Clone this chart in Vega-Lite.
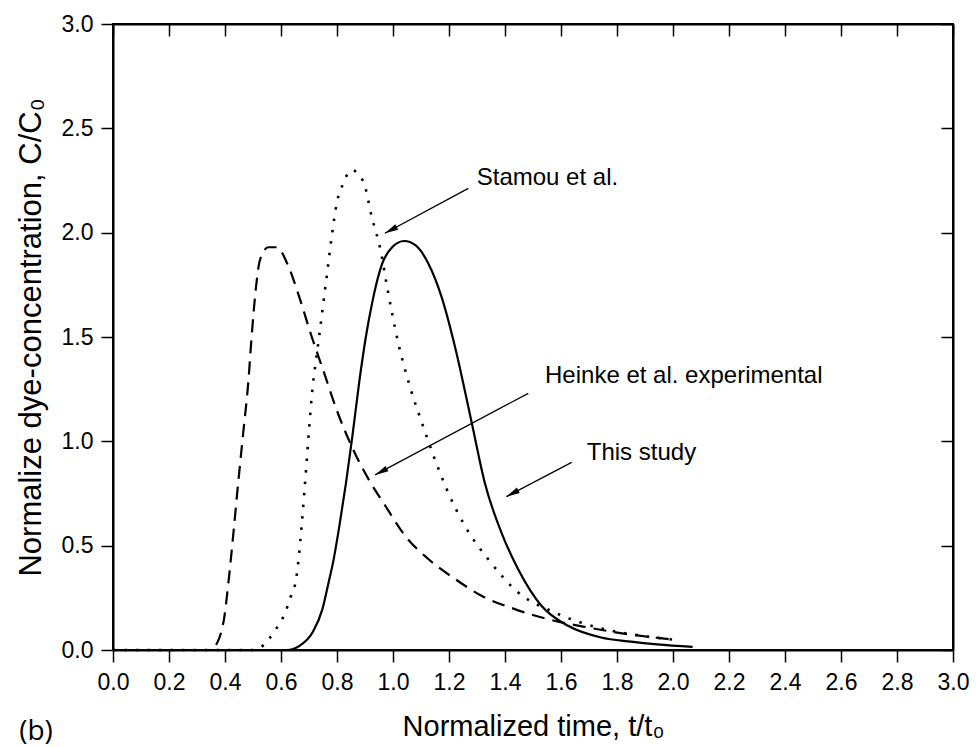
{
  "$schema": "https://vega.github.io/schema/vega-lite/v6.json",
  "width": 840,
  "height": 626,
  "autosize": {"type": "none"},
  "padding": {"left": 113, "top": 24, "right": 23, "bottom": 97},
  "background": "white",
  "config": {
    "view": {"stroke": "black", "strokeWidth": 2},
    "axis": {
      "grid": false,
      "labelFont": "Liberation Sans",
      "labelFontSize": 23,
      "labelColor": "black",
      "titleFont": "Liberation Sans",
      "titleFontSize": 29,
      "titleFontWeight": "normal",
      "titleColor": "black",
      "domainColor": "black",
      "domainWidth": 2,
      "tickColor": "black",
      "tickWidth": 1.5,
      "tickSize": 12
    },
    "text": {"font": "Liberation Sans", "color": "black"}
  },
  "datasets": {
    "curves": [
      {"series": "Heinke et al. experimental", "t": 0, "c": 0},
      {"series": "Heinke et al. experimental", "t": 0.34, "c": 0},
      {"series": "Heinke et al. experimental", "t": 0.358, "c": 0.01},
      {"series": "Heinke et al. experimental", "t": 0.394, "c": 0.13},
      {"series": "Heinke et al. experimental", "t": 0.412, "c": 0.32},
      {"series": "Heinke et al. experimental", "t": 0.43, "c": 0.56},
      {"series": "Heinke et al. experimental", "t": 0.447, "c": 0.8},
      {"series": "Heinke et al. experimental", "t": 0.465, "c": 1.04},
      {"series": "Heinke et al. experimental", "t": 0.483, "c": 1.28},
      {"series": "Heinke et al. experimental", "t": 0.495, "c": 1.5},
      {"series": "Heinke et al. experimental", "t": 0.51, "c": 1.73},
      {"series": "Heinke et al. experimental", "t": 0.525, "c": 1.87},
      {"series": "Heinke et al. experimental", "t": 0.555, "c": 1.93},
      {"series": "Heinke et al. experimental", "t": 0.585, "c": 1.93},
      {"series": "Heinke et al. experimental", "t": 0.626, "c": 1.84},
      {"series": "Heinke et al. experimental", "t": 0.668, "c": 1.68},
      {"series": "Heinke et al. experimental", "t": 0.71, "c": 1.5},
      {"series": "Heinke et al. experimental", "t": 0.751, "c": 1.34},
      {"series": "Heinke et al. experimental", "t": 0.799, "c": 1.15},
      {"series": "Heinke et al. experimental", "t": 0.858, "c": 0.96},
      {"series": "Heinke et al. experimental", "t": 0.912, "c": 0.82},
      {"series": "Heinke et al. experimental", "t": 0.973, "c": 0.69},
      {"series": "Heinke et al. experimental", "t": 1.044, "c": 0.546},
      {"series": "Heinke et al. experimental", "t": 1.127, "c": 0.435},
      {"series": "Heinke et al. experimental", "t": 1.222, "c": 0.34},
      {"series": "Heinke et al. experimental", "t": 1.316, "c": 0.26},
      {"series": "Heinke et al. experimental", "t": 1.435, "c": 0.196},
      {"series": "Heinke et al. experimental", "t": 1.553, "c": 0.148},
      {"series": "Heinke et al. experimental", "t": 1.696, "c": 0.108},
      {"series": "Heinke et al. experimental", "t": 1.838, "c": 0.076},
      {"series": "Heinke et al. experimental", "t": 2.0, "c": 0.05},

      {"series": "Stamou et al.", "t": 0, "c": 0},
      {"series": "Stamou et al.", "t": 0.5, "c": 0},
      {"series": "Stamou et al.", "t": 0.524, "c": 0.01},
      {"series": "Stamou et al.", "t": 0.577, "c": 0.09},
      {"series": "Stamou et al.", "t": 0.612, "c": 0.17},
      {"series": "Stamou et al.", "t": 0.636, "c": 0.26},
      {"series": "Stamou et al.", "t": 0.654, "c": 0.34},
      {"series": "Stamou et al.", "t": 0.664, "c": 0.45},
      {"series": "Stamou et al.", "t": 0.674, "c": 0.6},
      {"series": "Stamou et al.", "t": 0.683, "c": 0.75},
      {"series": "Stamou et al.", "t": 0.692, "c": 0.91},
      {"series": "Stamou et al.", "t": 0.701, "c": 1.07},
      {"series": "Stamou et al.", "t": 0.71, "c": 1.22},
      {"series": "Stamou et al.", "t": 0.722, "c": 1.36},
      {"series": "Stamou et al.", "t": 0.736, "c": 1.5},
      {"series": "Stamou et al.", "t": 0.75, "c": 1.65},
      {"series": "Stamou et al.", "t": 0.766, "c": 1.82},
      {"series": "Stamou et al.", "t": 0.781, "c": 1.98},
      {"series": "Stamou et al.", "t": 0.799, "c": 2.14},
      {"series": "Stamou et al.", "t": 0.822, "c": 2.235},
      {"series": "Stamou et al.", "t": 0.852, "c": 2.3},
      {"series": "Stamou et al.", "t": 0.894, "c": 2.245},
      {"series": "Stamou et al.", "t": 0.925, "c": 2.07},
      {"series": "Stamou et al.", "t": 0.955, "c": 1.92},
      {"series": "Stamou et al.", "t": 0.979, "c": 1.74},
      {"series": "Stamou et al.", "t": 1.014, "c": 1.5},
      {"series": "Stamou et al.", "t": 1.062, "c": 1.255},
      {"series": "Stamou et al.", "t": 1.103, "c": 1.09},
      {"series": "Stamou et al.", "t": 1.145, "c": 0.93},
      {"series": "Stamou et al.", "t": 1.192, "c": 0.77},
      {"series": "Stamou et al.", "t": 1.257, "c": 0.594},
      {"series": "Stamou et al.", "t": 1.34, "c": 0.435},
      {"series": "Stamou et al.", "t": 1.447, "c": 0.276},
      {"series": "Stamou et al.", "t": 1.577, "c": 0.18},
      {"series": "Stamou et al.", "t": 1.755, "c": 0.1},
      {"series": "Stamou et al.", "t": 1.88, "c": 0.07},
      {"series": "Stamou et al.", "t": 2.0, "c": 0.05},

      {"series": "This study", "t": 0, "c": 0},
      {"series": "This study", "t": 0.62, "c": 0},
      {"series": "This study", "t": 0.666, "c": 0.02},
      {"series": "This study", "t": 0.713, "c": 0.085},
      {"series": "This study", "t": 0.748, "c": 0.196},
      {"series": "This study", "t": 0.771, "c": 0.33},
      {"series": "This study", "t": 0.786, "c": 0.42},
      {"series": "This study", "t": 0.808, "c": 0.59},
      {"series": "This study", "t": 0.832, "c": 0.8},
      {"series": "This study", "t": 0.855, "c": 1.025},
      {"series": "This study", "t": 0.879, "c": 1.28},
      {"series": "This study", "t": 0.903, "c": 1.5},
      {"series": "This study", "t": 0.925, "c": 1.66},
      {"series": "This study", "t": 0.961, "c": 1.85},
      {"series": "This study", "t": 0.997, "c": 1.93},
      {"series": "This study", "t": 1.04, "c": 1.96},
      {"series": "This study", "t": 1.08, "c": 1.94},
      {"series": "This study", "t": 1.127, "c": 1.85},
      {"series": "This study", "t": 1.174, "c": 1.69},
      {"series": "This study", "t": 1.222, "c": 1.45},
      {"series": "This study", "t": 1.281, "c": 1.09},
      {"series": "This study", "t": 1.328, "c": 0.8},
      {"series": "This study", "t": 1.388, "c": 0.56},
      {"series": "This study", "t": 1.447, "c": 0.387},
      {"series": "This study", "t": 1.53, "c": 0.212},
      {"series": "This study", "t": 1.625, "c": 0.116},
      {"series": "This study", "t": 1.743, "c": 0.06},
      {"series": "This study", "t": 1.85, "c": 0.04},
      {"series": "This study", "t": 1.944, "c": 0.027},
      {"series": "This study", "t": 2.07, "c": 0.015}
    ],
    "arrows": [
      {"label": "Stamou et al.", "t1": 1.269, "c1": 2.212, "t2": 0.971, "c2": 1.997, "tt": 1.299, "ct": 2.228},
      {"label": "Heinke et al. experimental", "t1": 1.483, "c1": 1.23, "t2": 0.936, "c2": 0.839, "tt": 1.543, "ct": 1.281},
      {"label": "This study", "t1": 1.638, "c1": 0.899, "t2": 1.405, "c2": 0.735, "tt": 1.692, "ct": 0.911}
    ],
    "panel": [{"label": "(b)", "t": -0.275, "c": -0.395}]
  },
  "resolve": {"axis": {"x": "independent", "y": "independent"}},
  "layer": [
    {
      "data": {"name": "curves"},
      "transform": [{"filter": "datum.series === 'Heinke et al. experimental'"}],
      "mark": {"type": "line", "color": "black", "strokeWidth": 2.2, "strokeDash": [13, 8], "interpolate": "monotone"},
      "encoding": {
        "x": {"field": "t", "type": "quantitative", "scale": {"domain": [0, 3], "nice": false},
          "axis": {"orient": "bottom", "values": [0, 0.2, 0.4, 0.6, 0.8, 1.0, 1.2, 1.4, 1.6, 1.8, 2.0, 2.2, 2.4, 2.6, 2.8, 3.0], "format": ".1f", "labelFlush": false, "labelPadding": 9, "title": "Normalized time, t/t₀", "titlePadding": 18}},
        "y": {"field": "c", "type": "quantitative", "scale": {"domain": [0, 3], "nice": false},
          "axis": {"orient": "left", "values": [0, 0.5, 1.0, 1.5, 2.0, 2.5, 3.0], "format": ".1f", "labelFlush": false, "labelPadding": 8, "title": "Normalize dye-concentration, C/C₀", "titleFontSize": 31, "titlePadding": 14}}
      }
    },
    {
      "data": {"name": "curves"},
      "transform": [{"filter": "datum.series === 'Stamou et al.'"}],
      "mark": {"type": "line", "color": "black", "strokeWidth": 2.6, "strokeDash": [2.5, 9], "interpolate": "monotone"},
      "encoding": {
        "x": {"field": "t", "type": "quantitative", "axis": {"orient": "top", "values": [0, 0.2, 0.4, 0.6, 0.8, 1.0, 1.2, 1.4, 1.6, 1.8, 2.0, 2.2, 2.4, 2.6, 2.8, 3.0], "labels": false, "tickSize": -12, "title": null}},
        "y": {"field": "c", "type": "quantitative", "axis": {"orient": "right", "values": [0, 0.5, 1.0, 1.5, 2.0, 2.5, 3.0], "labels": false, "tickSize": -12, "title": null}}
      }
    },
    {
      "data": {"name": "curves"},
      "transform": [{"filter": "datum.series === 'This study'"}],
      "mark": {"type": "line", "color": "black", "strokeWidth": 2.2, "interpolate": "monotone"},
      "encoding": {
        "x": {"field": "t", "type": "quantitative", "axis": null},
        "y": {"field": "c", "type": "quantitative", "axis": null}
      }
    },
    {
      "data": {"name": "arrows"},
      "mark": {"type": "rule", "color": "black", "strokeWidth": 1.3},
      "encoding": {
        "x": {"field": "t1", "type": "quantitative", "axis": null},
        "y": {"field": "c1", "type": "quantitative", "axis": null},
        "x2": {"field": "t2"},
        "y2": {"field": "c2"}
      }
    },
    {
      "data": {"name": "arrows"},
      "mark": {"type": "point", "shape": "M0,0L-0.5,2.2L0.5,2.2Z", "filled": true, "color": "black", "opacity": 1, "size": 150, "angle": 242},
      "encoding": {
        "x": {"field": "t2", "type": "quantitative", "axis": null},
        "y": {"field": "c2", "type": "quantitative", "axis": null}
      }
    },
    {
      "data": {"name": "arrows"},
      "mark": {"type": "text", "align": "left", "baseline": "alphabetic", "fontSize": 24},
      "encoding": {
        "x": {"field": "tt", "type": "quantitative", "axis": null},
        "y": {"field": "ct", "type": "quantitative", "axis": null},
        "text": {"field": "label"}
      }
    },
    {
      "data": {"name": "panel"},
      "mark": {"type": "text", "align": "center", "baseline": "middle", "fontSize": 28, "font": "Open Sans"},
      "encoding": {
        "x": {"field": "t", "type": "quantitative", "axis": null},
        "y": {"field": "c", "type": "quantitative", "axis": null},
        "text": {"field": "label"}
      }
    }
  ]
}
